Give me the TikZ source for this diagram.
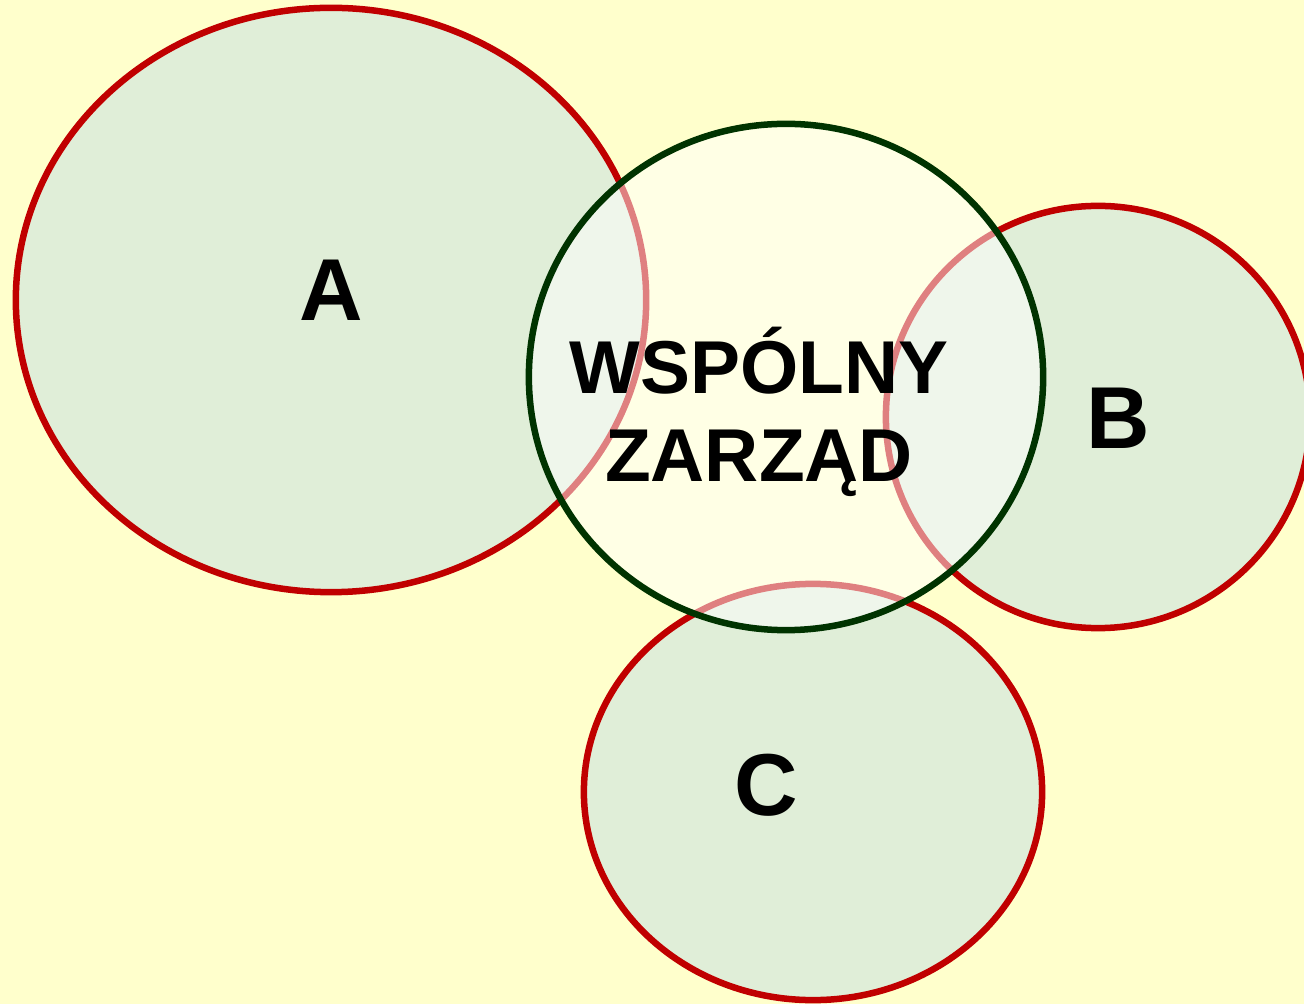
\documentclass[tikz,border=0pt]{standalone}
\usepackage{fontspec}
\setmainfont{Liberation Sans}
\usepackage{tikz}
\usetikzlibrary{calc}
\usepackage{xcolor}

\definecolor{bgyellow}{HTML}{FFFFCC}
\definecolor{firmgreen}{HTML}{E0EED8}
\definecolor{firmred}{HTML}{C00000}
\definecolor{boardgreen}{HTML}{003300}

\tikzset{
  firm/.style={fill=firmgreen, draw=firmred, line width=0.065cm},
  board/.style={fill=white, fill opacity=0.5, draw=boardgreen, draw opacity=1, line width=0.065cm},
  biglabel/.style={font=\bfseries\fontsize{25}{30}\selectfont, text=black},
  boardlabel/.style={font=\bfseries\fontsize{21.3}{25}\selectfont, text=black, align=center}
}

\begin{document}
\begin{tikzpicture}[x=0.01cm, y=-0.01cm]
    % Background
    \fill[bgyellow] (0,0) rectangle (1304,1004);
    \useasboundingbox (0,0) rectangle (1304,1004);

    % Company A
    \draw[firm] (331,300) ellipse[x radius=3.15cm, y radius=2.92cm];
    \node[biglabel] (a) at (331,290) {A};

    % Company B
    \draw[firm] (1098,417) ellipse[x radius=2.12cm, y radius=2.11cm];
    \node[biglabel] (b) at (1118,418) {B};

    % Company C
    \draw[firm] (813,792) ellipse[x radius=2.29cm, y radius=2.08cm];
    \node[biglabel] (c) at (766,785) {C};

    % Joint board - on top, half see-through
    \draw[board] (786,377) ellipse[x radius=2.57cm, y radius=2.53cm];
    \node[boardlabel] (board) at (759,412) {WSPÓLNY\\ZARZĄD};
\end{tikzpicture}
\end{document}
